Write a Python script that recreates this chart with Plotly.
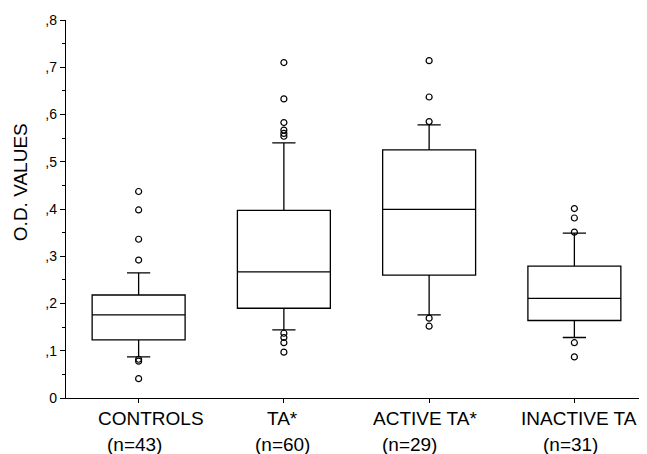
import plotly.graph_objects as go

# ---- data ----
categories = ["CONTROLS", "TA*", "ACTIVE TA*", "INACTIVE TA"]
n_labels = ["(n=43)", "(n=60)", "(n=29)", "(n=31)"]
q1 = [0.123, 0.190, 0.260, 0.164]
median = [0.176, 0.267, 0.399, 0.211]
q3 = [0.218, 0.397, 0.525, 0.279]
lowerfence = [0.087, 0.144, 0.176, 0.128]
upperfence = [0.265, 0.540, 0.578, 0.349]

outlier_cat = (["CONTROLS"] * 7 + ["TA*"] * 10 + ["ACTIVE TA*"] * 5 + ["INACTIVE TA"] * 5)
outlier_val = [0.437, 0.398, 0.336, 0.292, 0.082, 0.078, 0.041,
               0.710, 0.633, 0.583, 0.567, 0.560, 0.554, 0.137, 0.128, 0.117, 0.097,
               0.714, 0.637, 0.585, 0.169, 0.152,
               0.401, 0.381, 0.351, 0.117, 0.087]

y_tickvals = [0, 0.1, 0.2, 0.3, 0.4, 0.5, 0.6, 0.7, 0.8]
y_ticktext = ["0", ",1", ",2", ",3", ",4", ",5", ",6", ",7", ",8"]
y_title = "O.D. VALUES"

# label pixel offsets (styling)
name_shift = [12, -1, -4, 5]
n_shift = [-4, -1, -20, -4]

FONT = "Liberation Sans, Arial, sans-serif"

fig = go.Figure()
fig.add_trace(go.Box(
    x=categories, q1=q1, median=median, q3=q3,
    lowerfence=lowerfence, upperfence=upperfence,
    boxpoints=False, fillcolor="white",
    line=dict(color="black", width=1.3), whiskerwidth=0.25,
    showlegend=False, hoverinfo="skip",
))
fig.add_trace(go.Scatter(
    x=outlier_cat, y=outlier_val, mode="markers",
    marker=dict(symbol="circle-open", size=6, color="black", line=dict(width=1.2)),
    showlegend=False, hoverinfo="skip",
))

for i, c in enumerate(categories):
    fig.add_annotation(x=c, y=0, xref="x", yref="paper", text=c, showarrow=False,
                       yanchor="middle", yshift=-20, xshift=name_shift[i],
                       font=dict(family=FONT, size=19, color="black"))
    fig.add_annotation(x=c, y=0, xref="x", yref="paper", text=n_labels[i], showarrow=False,
                       yanchor="middle", yshift=-46, xshift=n_shift[i],
                       font=dict(family=FONT, size=19, color="black"))

# y-axis title (placed as annotation to match reference's off-centre position)
fig.add_annotation(x=0, y=0.571, xref="paper", yref="paper", text=y_title, showarrow=False,
                   textangle=-90, xanchor="center", yanchor="middle", xshift=-46,
                   font=dict(family=FONT, size=19, color="black"))

fig.update_layout(
    width=639, height=446,
    margin=dict(l=58, r=0, t=12, b=56),
    paper_bgcolor="white", plot_bgcolor="white",
    boxgap=0.36, boxgroupgap=0,
    font=dict(family=FONT, color="black"),
    xaxis=dict(
        categoryorder="array", categoryarray=categories,
        range=[-0.5, 3.5], showticklabels=False,
        showline=True, linecolor="black", linewidth=1.3,
        ticks="outside", ticklen=4, tickcolor="black",
        showgrid=False, zeroline=False,
    ),
    yaxis=dict(
        range=[0, 0.8], tickvals=y_tickvals, ticktext=y_ticktext,
        showline=True, linecolor="black", linewidth=1.3,
        ticks="outside", ticklen=5, tickcolor="black",
        tickfont=dict(family=FONT, size=14, color="black"),
        minor=dict(dtick=0.05, ticks="outside", ticklen=3, tickcolor="black"),
        showgrid=False, zeroline=False,
    ),
)

fig.write_html("out.html")
